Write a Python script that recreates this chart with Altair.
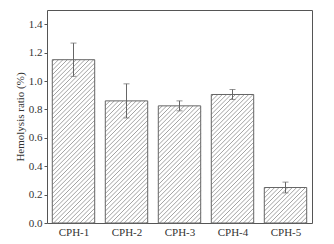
import altair as alt
import pandas as pd

categories = ["CPH-1", "CPH-2", "CPH-3", "CPH-4", "CPH-5"]
positions = [1, 2, 3, 4, 5]
values = [1.15, 0.86, 0.825, 0.905, 0.25]
errors = [0.117, 0.12, 0.035, 0.035, 0.038]
y_ticks = [0, 0.2, 0.4, 0.6, 0.8, 1.0, 1.2, 1.4]

W, H = 265, 213
YMAX = 1.5
BAR = 0.8
SPACING = 4.4
px_x = W / 5.0
px_y = H / YMAX

bars = pd.DataFrame({"pos": positions, "cat": categories, "value": values, "err": errors})
bars["x0"] = bars["pos"] - BAR / 2
bars["x1"] = bars["pos"] + BAR / 2
bars["lo"] = bars["value"] - bars["err"]
bars["hi"] = bars["value"] + bars["err"]
bars["base"] = 0.0

# hatch segments computed from the bar values, drawn through the same scales
segs = []
for p, v in zip(positions, values):
    w = BAR * px_x
    h = v * px_y
    d = -w + 1.5
    while d < h:
        t0 = max(0.0, -d)
        t1 = min(w, h - d)
        if t1 > t0:
            segs.append({
                "x": p - BAR / 2 + t0 / px_x,
                "y": (t0 + d) / px_y,
                "x2": p - BAR / 2 + t1 / px_x,
                "y2": (t1 + d) / px_y,
            })
        d += SPACING
hatch = pd.DataFrame(segs)

label_arr = "[" + ",".join("'%s'" % c for c in categories) + "]"

xscale = alt.Scale(domain=[0.5, 5.5], nice=False, zero=False)
yscale = alt.Scale(domain=[0, YMAX], nice=False)

xaxis = alt.Axis(values=positions, labelExpr=label_arr + "[datum.value - 1]",
                 ticks=False, domain=False, grid=False, labelPadding=3, title=None,
                 labelOverlap=False)
yaxis = alt.Axis(values=y_ticks, format=".1f", labelOverlap=False,
                 tickSize=3, domain=False, grid=False, labelPadding=2,
                 title="Hemolysis ratio (%)", titlePadding=3)

base = alt.Chart(bars)


def X(field):
    return alt.X(field, scale=xscale, axis=xaxis)


def Y(field):
    return alt.Y(field, scale=yscale, axis=yaxis)


fill = base.mark_rect(fill="white", stroke=None).encode(
    x=X("x0:Q"), x2="x1", y=Y("base:Q"), y2="value",
)

hatch_layer = alt.Chart(hatch).mark_rule(color="#8a8a8a", strokeWidth=0.8).encode(
    x=X("x:Q"), x2="x2", y=Y("y:Q"), y2="y2",
)

outline = base.mark_rect(fill=None, stroke="#666666", strokeWidth=1).encode(
    x=X("x0:Q"), x2="x1", y=Y("base:Q"), y2="value",
)

err_rule = base.mark_rule(color="#666666", strokeWidth=1).encode(
    x=X("pos:Q"), y=Y("lo:Q"), y2="hi",
)
cap_hi = base.mark_tick(color="#666666", orient="horizontal", size=6, thickness=1).encode(
    x=X("pos:Q"), y=Y("hi:Q"),
)
cap_lo = base.mark_tick(color="#666666", orient="horizontal", size=6, thickness=1).encode(
    x=X("pos:Q"), y=Y("lo:Q"),
)

chart = alt.layer(fill, hatch_layer, outline, err_rule, cap_hi, cap_lo).properties(
    width=W, height=H,
    autosize=alt.AutoSizeParams(type="none"),
    padding={"left": 47, "top": 10, "right": 22, "bottom": 21},
    background="white",
).configure_view(
    stroke="#555555", strokeWidth=1
).configure_axis(
    labelFont="Liberation Serif", labelFontSize=11, labelColor="#333333",
    titleFont="Liberation Serif", titleFontSize=11, titleColor="#333333",
    titleFontWeight="normal", tickColor="#555555",
)

chart.save("out.html", embed_options={"renderer": "svg", "actions": False})
